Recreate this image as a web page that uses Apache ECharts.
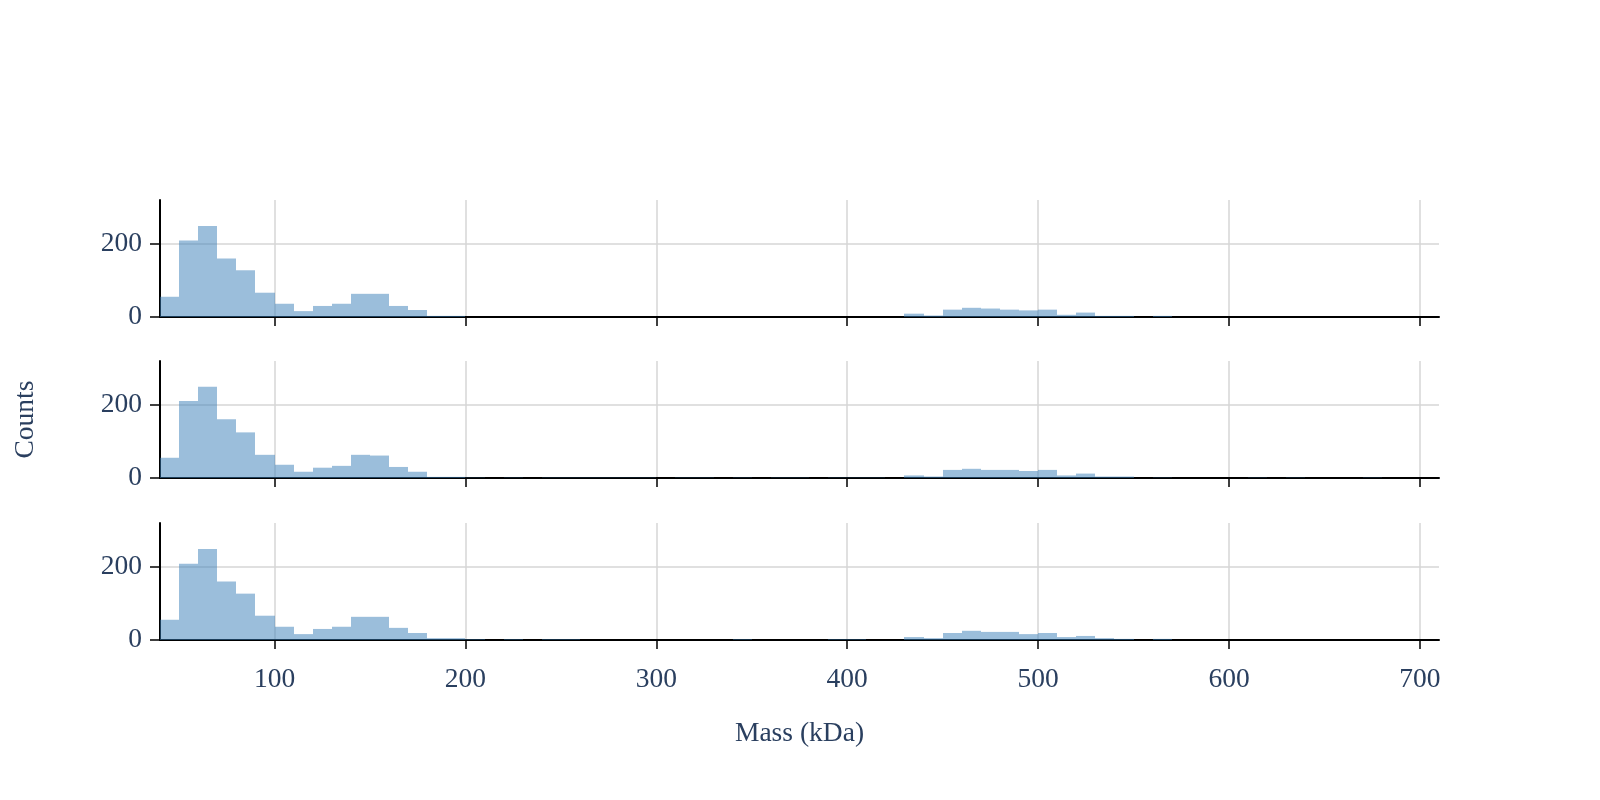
<!DOCTYPE html>
<html>
<head>
<meta charset="utf-8">
<script src="https://cdn.jsdelivr.net/npm/echarts@6/dist/echarts.min.js"></script>
<style>
html, body { margin: 0; padding: 0; background: #fff; }
#chart { width: 1600px; height: 800px; }
</style>
</head>
<body>
<div id="chart"></div>
<script>
// left edge of each 10 kDa bin
var binStarts = [40, 50, 60, 70, 80, 90, 100, 110, 120, 130, 140, 150, 160, 170, 180, 190,
	200, 210, 220, 230, 240, 250, 260, 270, 280, 290, 300, 310, 320, 330, 340, 350,
	360, 370, 380, 390, 400, 410, 420, 430, 440, 450, 460, 470, 480, 490, 500, 510,
	520, 530, 540, 550, 560, 570, 580, 590, 600, 610, 620, 630, 640, 650, 660, 670, 680, 690];
var binWidth = 10;

var countsTop = [55, 208, 247, 159, 127, 66, 36, 16, 30, 36, 63, 63, 30, 19, 3, 3,
	0, 0, 0, 0, 0, 0, 0, 0, 0, 0, 0, 0, 0, 0, 0, 0,
	0, 0, 0, 0, 0, 0, 0, 9, 4, 20, 25, 23, 20, 18, 20, 6,
	12, 3, 3, 0, 3, 0, 0, 0, 0, 0, 0, 0, 0, 0, 0, 0, 0, 0];
var countsMid = [55, 209, 248, 160, 124, 63, 36, 17, 28, 33, 63, 61, 30, 17, 3, 3,
	1, 0, 1, 0, 1, 1, 1, 1, 1, 1, 0, 1, 1, 0, 1, 0,
	1, 1, 0, 1, 1, 1, 0, 7, 4, 22, 25, 22, 22, 19, 22, 7,
	12, 4, 4, 0, 1, 0, 0, 0, 0, 1, 0, 1, 0, 0, 0, 1, 0, 0];
var countsBottom = [55, 207, 247, 159, 126, 66, 36, 16, 30, 36, 63, 63, 33, 19, 5, 5,
	2, 0, 2, 0, 2, 2, 0, 0, 0, 0, 0, 0, 0, 0, 2, 0,
	0, 0, 0, 2, 2, 0, 0, 8, 5, 19, 25, 22, 22, 16, 19, 8,
	11, 5, 3, 0, 3, 0, 0, 0, 0, 0, 0, 0, 0, 0, 0, 0, 0, 0];

var xTicks = [100, 200, 300, 400, 500, 600, 700];
var yTicks = [0, 200];

var fontFamily = "'Liberation Serif', 'DejaVu Serif', serif";
var textColor = '#2a3f5f';
var barColor = 'rgba(55,126,184,0.5)';
var fontSize = 27.5;
var panels = [countsTop, countsMid, countsBottom];
var gridTops = [200, 361, 523];

var chart = echarts.init(document.getElementById('chart'));

// one rect per bin; edges snapped to whole pixels so neighbours meet without seams
function renderBin(params, api) {
	var x0 = api.value(0);
	var p0 = api.coord([x0, api.value(1)]);
	var p1 = api.coord([x0 + binWidth, 0]);
	var left = Math.round(p0[0]), right = Math.round(p1[0]);
	return {
		type: 'rect',
		shape: { x: left, y: p0[1], width: right - left, height: p1[1] - p0[1] },
		style: { fill: barColor }
	};
}

var grids = [], xAxes = [], yAxes = [], series = [];
panels.forEach(function (counts, i) {
	var last = i === panels.length - 1;
	grids.push({ left: 160, right: 161, top: gridTops[i], height: 117 });
	xAxes.push({
		type: 'value',
		gridIndex: i,
		min: 40,
		max: 710,
		axisLine: { show: true, onZero: false, lineStyle: { color: '#000', width: 2 } },
		axisTick: { show: true, length: 9, customValues: xTicks, lineStyle: { color: '#000', width: 1.5 } },
		axisLabel: {
			show: last,
			customValues: xTicks,
			margin: 26,
			fontSize: fontSize,
			fontFamily: fontFamily,
			color: textColor
		},
		splitLine: { show: true, lineStyle: { color: '#d6d6d6', width: 1.5 } },
		name: last ? 'Mass (kDa)' : '',
		nameLocation: 'middle',
		nameGap: 80,
		nameTextStyle: { fontSize: fontSize, fontFamily: fontFamily, color: textColor }
	});
	yAxes.push({
		type: 'value',
		gridIndex: i,
		min: 0,
		max: 318,
		axisLine: { show: true, lineStyle: { color: '#000', width: 2 } },
		axisTick: { show: true, length: 10, customValues: yTicks, lineStyle: { color: '#000', width: 1.5 } },
		axisLabel: {
			customValues: yTicks,
			margin: 18,
			fontSize: fontSize,
			fontFamily: fontFamily,
			color: textColor
		},
		splitLine: { show: true, lineStyle: { color: '#d6d6d6', width: 1.5 } },
		name: i === 1 ? 'Counts' : '',
		nameLocation: 'middle',
		nameGap: 120,
		nameRotate: 90,
		nameTextStyle: { fontSize: fontSize, fontFamily: fontFamily, color: textColor }
	});
	series.push({
		type: 'custom',
		xAxisIndex: i,
		yAxisIndex: i,
		renderItem: renderBin,
		encode: { x: 0, y: 1 },
		data: binStarts.map(function (b, k) { return [b, counts[k]]; })
	});
});

chart.setOption({
	animation: false,
	backgroundColor: '#fff',
	grid: grids,
	xAxis: xAxes,
	yAxis: yAxes,
	series: series
});
</script>
</body>
</html>
